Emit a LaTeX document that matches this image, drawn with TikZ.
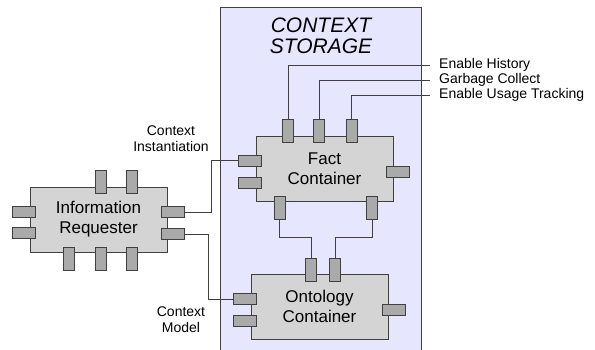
\documentclass[tikz,border=0pt]{standalone}
\usepackage{fontspec}
\setmainfont{Liberation Sans}
\usepackage{tikz}
\usetikzlibrary{arrows.meta}

\definecolor{storagefill}{HTML}{E6E6FF}
\definecolor{boxfill}{HTML}{D4D4D4}
\definecolor{portfill}{HTML}{AAAAAA}
\definecolor{edge}{HTML}{404040}

\begin{document}
\begin{tikzpicture}[x=1pt,y=-1pt,
  comp/.style={draw=edge, fill=boxfill, line width=1pt, minimum width=137pt,
    minimum height=65pt, inner sep=0, align=center,
    font=\fontsize{17}{20}\selectfont},
  vport/.style={draw=edge, fill=portfill, line width=1pt, minimum width=11pt,
    minimum height=23pt, inner sep=0},
  hport/.style={draw=edge, fill=portfill, line width=1pt, minimum width=23pt,
    minimum height=11pt, inner sep=0},
  wire/.style={draw=edge, line width=0.9pt},
  lab/.style={inner sep=0, align=center, font=\fontsize{14}{16}\selectfont}]
  \useasboundingbox (0,0) rectangle (595,349);
  \clip (0,0) rectangle (595,349);
  % storage area
  \draw [draw=edge, fill=storagefill, line width=1pt] (220,7) rectangle (421,360);
  \node [inner sep=0, align=center, font=\fontsize{21}{21}\selectfont\itshape]
    (title) at (321,36) {CONTEXT\\STORAGE};
  % components
  \node [comp] (fact) at (324.5,168.5) {Fact\\Container};
  \node [comp] (onto) at (319.5,306.5) {Ontology\\Container};
  \node [comp] (req) at (98.5,219.5) {Information\\Requester};
  % ports
  \foreach \x/\n in {288/ft1, 319/ft2, 351.5/ft3} \node [vport] (\n) at (\x,130.5) {};
  \foreach \x/\n in {279.5/fb1, 372/fb2} \node [vport] (\n) at (\x,207.5) {};
  \foreach \y/\n in {160.5/fl1, 182.5/fl2} \node [hport] (\n) at (249.5,\y) {};
  \node [hport] (fr) at (398,171.5) {};
  \foreach \x/\n in {311/ot1, 335/ot2} \node [vport] (\n) at (\x,269.5) {};
  \foreach \y/\n in {299/ol1, 321/ol2} \node [hport] (\n) at (244.5,\y) {};
  \node [hport] (or) at (394,309.5) {};
  \foreach \x/\n in {101/rt1, 131.5/rt2} \node [vport] (\n) at (\x,181.5) {};
  \foreach \x/\n in {68.5/rb1, 100.5/rb2, 131.5/rb3} \node [vport] (\n) at (\x,258.5) {};
  \foreach \y/\n in {212/rl1, 233/rl2} \node [hport] (\n) at (24,\y) {};
  \foreach \y/\n in {212/rr1, 234/rr2} \node [hport] (\n) at (172.5,\y) {};
  % labels
  \node [lab, anchor=west] (hist) at (439,65) {Enable History};
  \node [lab, anchor=west] (garb) at (439,80) {Garbage Collect};
  \node [lab, anchor=west] (usage) at (439,95) {Enable Usage Tracking};
  \node [lab] (inst) at (171,139) {Context\\Instantiation};
  \node [lab] (model) at (181,319.5) {Context\\Model};
  % wires
  \draw [wire] (ft1.north) |- ([xshift=-9pt]hist.west);
  \draw [wire] (ft2.north) |- ([xshift=-9pt]garb.west);
  \draw [wire] (ft3.north) |- ([xshift=-9pt]usage.west);
  \draw [wire] (rr1.east) -- ++(27,0) |- (fl1.west);
  \draw [wire] (rr2.east) -- ++(24,0) |- (ol1.west);
  \draw [wire] (fb1.south) -- ++(0,18) -| (ot1.north);
  \draw [wire] (fb2.south) -- ++(0,18) -| (ot2.north);
\end{tikzpicture}
\end{document}
